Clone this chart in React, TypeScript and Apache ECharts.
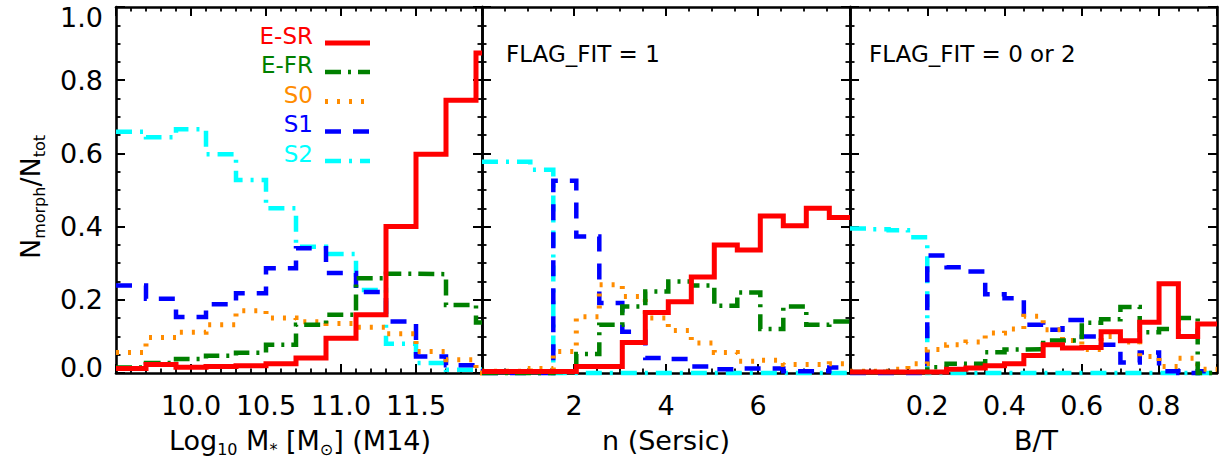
import React, { useEffect, useRef } from 'react';
import * as echarts from 'echarts';

const FONT = '"DejaVu Sans", "Liberation Sans", sans-serif';

// ---------- Panel 1 : stellar mass (bin edges, values per bin) ----------
const massEdges = [9.5, 9.7, 9.9, 10.1, 10.3, 10.5, 10.7, 10.9, 11.1, 11.3, 11.5, 11.7, 11.9, 11.94];
const massESR = [0.012, 0.023, 0.016, 0.018, 0.02, 0.025, 0.041, 0.095, 0.159, 0.4, 0.598, 0.745, 0.874];
const massEFR = [0.015, 0.027, 0.038, 0.047, 0.055, 0.077, 0.132, 0.159, 0.259, 0.271, 0.27, 0.186, 0.138];
const massS0 = [0.056, 0.097, 0.111, 0.132, 0.17, 0.15, 0.14, 0.135, 0.125, 0.107, 0.059, 0.036, 0.0];
const massS1 = [0.239, 0.203, 0.153, 0.188, 0.218, 0.286, 0.341, 0.273, 0.221, 0.141, 0.045, 0.021, 0.005];
const massS2 = [0.659, 0.644, 0.666, 0.598, 0.527, 0.45, 0.345, 0.325, 0.227, 0.08, 0.027, 0.009, 0.01];

// ---------- Panel 2 : Sersic index ----------
const sersicEdges = [0, 0.55, 1.05, 1.55, 2.05, 2.55, 3.05, 3.55, 4.05, 4.55, 5.05, 5.55, 6.05, 6.55, 7.05, 7.55, 8.0];
const sersicESR = [0.004, 0.004, 0.004, 0.004, 0.018, 0.018, 0.083, 0.165, 0.195, 0.262, 0.35, 0.336, 0.429, 0.402, 0.45, 0.425];
const sersicEFR = [0, 0, 0, 0.003, 0.052, 0.132, 0.182, 0.223, 0.25, 0.239, 0.184, 0.22, 0.12, 0.182, 0.132, 0.141];
const sersicS0 = [0.005, 0.005, 0.012, 0.059, 0.154, 0.241, 0.209, 0.15, 0.116, 0.082, 0.056, 0.032, 0.035, 0.023, 0.023, 0.025];
const sersicS1 = [0, 0, 0, 0.525, 0.373, 0.191, 0.113, 0.041, 0.038, 0.018, 0.01, 0.012, 0.012, 0.005, 0.005, 0.015];
const sersicS2 = [0.577, 0.577, 0.555, 0, 0, 0, 0, 0, 0, 0, 0, 0, 0, 0, 0, 0];

// ---------- Panel 3 : B/T ----------
const btEdges = [0, 0.05, 0.1, 0.15, 0.2, 0.25, 0.3, 0.35, 0.4, 0.45, 0.5, 0.55, 0.6, 0.65, 0.7, 0.75, 0.8, 0.85, 0.9, 0.95];
const btESR = [0.003, 0.003, 0.003, 0.003, 0.003, 0.01, 0.014, 0.02, 0.025, 0.048, 0.077, 0.068, 0.07, 0.113, 0.088, 0.139, 0.244, 0.1, 0.134];
const btEFR = [0.003, 0.003, 0.003, 0.003, 0.016, 0.025, 0.025, 0.057, 0.064, 0.065, 0.089, 0.089, 0.137, 0.147, 0.18, 0.111, 0.12, 0.15, 0.0];
const btS0 = [0.005, 0.005, 0.01, 0.025, 0.064, 0.077, 0.085, 0.109, 0.12, 0.155, 0.118, 0.089, 0.064, 0.1, 0.085, 0.045, 0.018, 0.04, 0.01];
const btS1 = [0, 0, 0, 0, 0.321, 0.289, 0.277, 0.215, 0.204, 0.132, 0.118, 0.145, 0.1, 0.077, 0.029, 0.056, 0.005, 0, 0.005];
const btS2 = [0.395, 0.393, 0.39, 0.371, 0, 0, 0, 0, 0, 0, 0, 0, 0, 0, 0, 0, 0, 0, 0];

// ---------- Tick labels ----------
const massTickValues = [10.0, 10.5, 11.0, 11.5];
const massTickLabels = ['10.0', '10.5', '11.0', '11.5'];
const sersicTickValues = [2, 4, 6];
const sersicTickLabels = ['2', '4', '6'];
const btTickValues = [0.2, 0.4, 0.6, 0.8];
const btTickLabels = ['0.2', '0.4', '0.6', '0.8'];
const fracTickValues = [0, 0.2, 0.4, 0.6, 0.8, 1.0];
const fracTickLabels = ['0.0', '0.2', '0.4', '0.6', '0.8', '1.0'];

const classNames = ['S2', 'S1', 'S0', 'E-FR', 'E-SR'];
const legendOrder = ['E-SR', 'E-FR', 'S0', 'S1', 'S2'];

const styles: Record<string, { color: string; width: number; type: any }> = {
  'E-SR': { color: '#FF0000', width: 5, type: 'solid' },
  'E-FR': { color: '#008000', width: 4.5, type: [16, 7, 3, 7] },
  S0: { color: '#FF8C00', width: 5, type: [3, 9] },
  S1: { color: '#0000FF', width: 4.5, type: [16, 12] },
  S2: { color: '#00FFFF', width: 4.5, type: [16, 8, 3, 8] },
};

const panels = [
  { edges: massEdges, min: 9.5, max: 11.94, major: 0.5, minor: 0.1, tv: massTickValues, tl: massTickLabels,
    data: { S2: massS2, S1: massS1, S0: massS0, 'E-FR': massEFR, 'E-SR': massESR } as Record<string, number[]> },
  { edges: sersicEdges, min: 0, max: 8, major: 2, minor: 0.5, tv: sersicTickValues, tl: sersicTickLabels,
    data: { S2: sersicS2, S1: sersicS1, S0: sersicS0, 'E-FR': sersicEFR, 'E-SR': sersicESR } as Record<string, number[]> },
  { edges: btEdges, min: 0, max: 0.95, major: 0.2, minor: 0.05, tv: btTickValues, tl: btTickLabels,
    data: { S2: btS2, S1: btS1, S0: btS0, 'E-FR': btEFR, 'E-SR': btESR } as Record<string, number[]> },
];

const grids = [
  { left: 116, top: 7, width: 366, height: 366 },
  { left: 482, top: 7, width: 368, height: 366 },
  { left: 850, top: 7, width: 367, height: 366 },
];

function fmt(tv: number[], tl: string[]) {
  return (v: number) => {
    const i = tv.findIndex((t) => Math.abs(t - v) < 1e-6);
    return i >= 0 ? tl[i] : '';
  };
}

function fmtY(v: number) {
  const i = fracTickValues.findIndex((t) => Math.abs(t - v) < 1e-6);
  if (i < 0) return '';
  const s = fracTickLabels[i];
  if (i === fracTickValues.length - 1) return '{top|' + s + '}';
  if (i === 0) return '{bot|' + s + '}';
  return s;
}

const frameLine = { show: true, onZero: false, lineStyle: { color: '#000', width: 2.6 } };
const majorTick = { show: true, inside: true, length: 9, lineStyle: { color: '#000', width: 2 } };
const minorTick = { show: true, inside: true, length: 4.5, lineStyle: { color: '#000', width: 1.8 } };

function xAxisSet(g: number, p: any) {
  const base = {
    type: 'value', gridIndex: g, min: p.min, max: p.max,
    splitLine: { show: false }, axisLine: { show: false, onZero: false },
    axisLabel: { show: false }, axisTick: minorTick,
  };
  return [
    { ...base, position: 'bottom', interval: p.major, axisLine: frameLine, axisTick: majorTick,
      axisLabel: { show: true, margin: 19, fontSize: 27, fontFamily: FONT, color: '#000', formatter: fmt(p.tv, p.tl) } },
    { ...base, position: 'bottom', interval: p.minor },
    { ...base, position: 'top', interval: p.major, axisLine: frameLine, axisTick: majorTick },
    { ...base, position: 'top', interval: p.minor },
  ];
}

function yAxisSet(g: number, labels: boolean) {
  const base = {
    type: 'value', gridIndex: g, min: 0, max: 1,
    splitLine: { show: false }, axisLine: { show: false, onZero: false },
    axisLabel: { show: false }, axisTick: minorTick,
  };
  return [
    { ...base, position: 'left', interval: 0.2, axisLine: frameLine, axisTick: majorTick,
      axisLabel: {
        show: labels, margin: 13, fontSize: 27, fontFamily: FONT, color: '#000', formatter: fmtY,
        rich: {
          top: { fontSize: 27, fontFamily: FONT, color: '#000', padding: [20, 0, 0, 0] },
          bot: { fontSize: 27, fontFamily: FONT, color: '#000', padding: [0, 0, 12, 0] },
        },
      } },
    { ...base, position: 'left', interval: 0.05 },
    { ...base, position: 'right', interval: 0.2, axisLine: frameLine, axisTick: majorTick },
    { ...base, position: 'right', interval: 0.05 },
  ];
}

function steps(edges: number[], vals: number[]) {
  return edges.map((e, i) => [e, vals[Math.min(i, vals.length - 1)]]);
}

function buildOption() {
  const xAxis: any[] = [];
  const yAxis: any[] = [];
  const series: any[] = [];
  panels.forEach((p, g) => {
    xAxis.push(...xAxisSet(g, p));
    yAxis.push(...yAxisSet(g, g === 0));
    classNames.forEach((name, k) => {
      const st = styles[name];
      series.push({
        type: 'line', name, xAxisIndex: g * 4, yAxisIndex: g * 4,
        data: steps(p.edges, p.data[name]), step: 'end',
        showSymbol: false, symbol: 'none', clip: false, silent: true, z: 2 + k,
        lineStyle: { color: st.color, width: st.width, type: st.type, join: 'miter', cap: 'butt' },
      });
    });
  });

  const graphic: any[] = [];
  // legend (panel 1)
  const legendTextY = [35.5, 65, 94.5, 124, 154];
  const legendLineY = [43, 72, 101.5, 131.5, 161];
  legendOrder.forEach((name, i) => {
    const st = styles[name];
    graphic.push({
      type: 'text', x: 313, y: legendTextY[i],
      style: { text: name, fill: st.color, fontSize: 23, fontFamily: FONT, align: 'right', verticalAlign: 'middle' },
    });
    graphic.push({
      type: 'line', shape: { x1: 325, y1: legendLineY[i], x2: 370, y2: legendLineY[i] },
      style: { stroke: st.color, lineWidth: st.width, lineDash: Array.isArray(st.type) ? st.type : null },
    });
  });
  // panel annotations
  graphic.push({
    type: 'text', x: 506, y: 54,
    style: { text: 'FLAG_FIT = 1', fill: '#000', fontSize: 23, fontFamily: FONT, align: 'left', verticalAlign: 'middle' },
  });
  graphic.push({
    type: 'text', x: 869, y: 54,
    style: { text: 'FLAG_FIT = 0 or 2', fill: '#000', fontSize: 23, fontFamily: FONT, align: 'left', verticalAlign: 'middle' },
  });
  // axis titles
  const richMain = { fontSize: 27, lineHeight: 34, fontFamily: FONT, fill: '#000' };
  const richSub = { fontSize: 16, lineHeight: 16, fontFamily: FONT, fill: '#000', verticalAlign: 'bottom' };
  graphic.push({
    type: 'text', x: 300, y: 440,
    style: {
      text: '{a|Log}{b|10}{a| M}{b|*}{a| [M}{b|⊙}{a|] (M14)}',
      align: 'center', verticalAlign: 'middle', rich: { a: richMain, b: richSub },
    },
  });
  graphic.push({
    type: 'text', x: 666, y: 440,
    style: { text: 'n (Sersic)', fill: '#000', fontSize: 27, fontFamily: FONT, align: 'center', verticalAlign: 'middle' },
  });
  graphic.push({
    type: 'text', x: 1036, y: 440,
    style: { text: 'B/T', fill: '#000', fontSize: 27, fontFamily: FONT, align: 'center', verticalAlign: 'middle' },
  });
  graphic.push({
    type: 'text', x: 30, y: 197, rotation: Math.PI / 2,
    style: {
      text: '{a|N}{b|morph}{a|/N}{b|tot}',
      align: 'center', verticalAlign: 'middle', rich: { a: richMain, b: richSub },
    },
  });

  return {
    animation: false,
    backgroundColor: '#fff',
    grid: grids,
    xAxis,
    yAxis,
    series,
    graphic,
  };
}

export default function App() {
  const ref = useRef<HTMLDivElement>(null);
  useEffect(() => {
    const chart = echarts.init(ref.current!, null, { renderer: 'svg' });
    chart.setOption(buildOption() as any);
    return () => chart.dispose();
  }, []);
  return <div ref={ref} style={{ position: 'fixed', left: 0, top: 0, width: 1223, height: 469 }} />;
}
